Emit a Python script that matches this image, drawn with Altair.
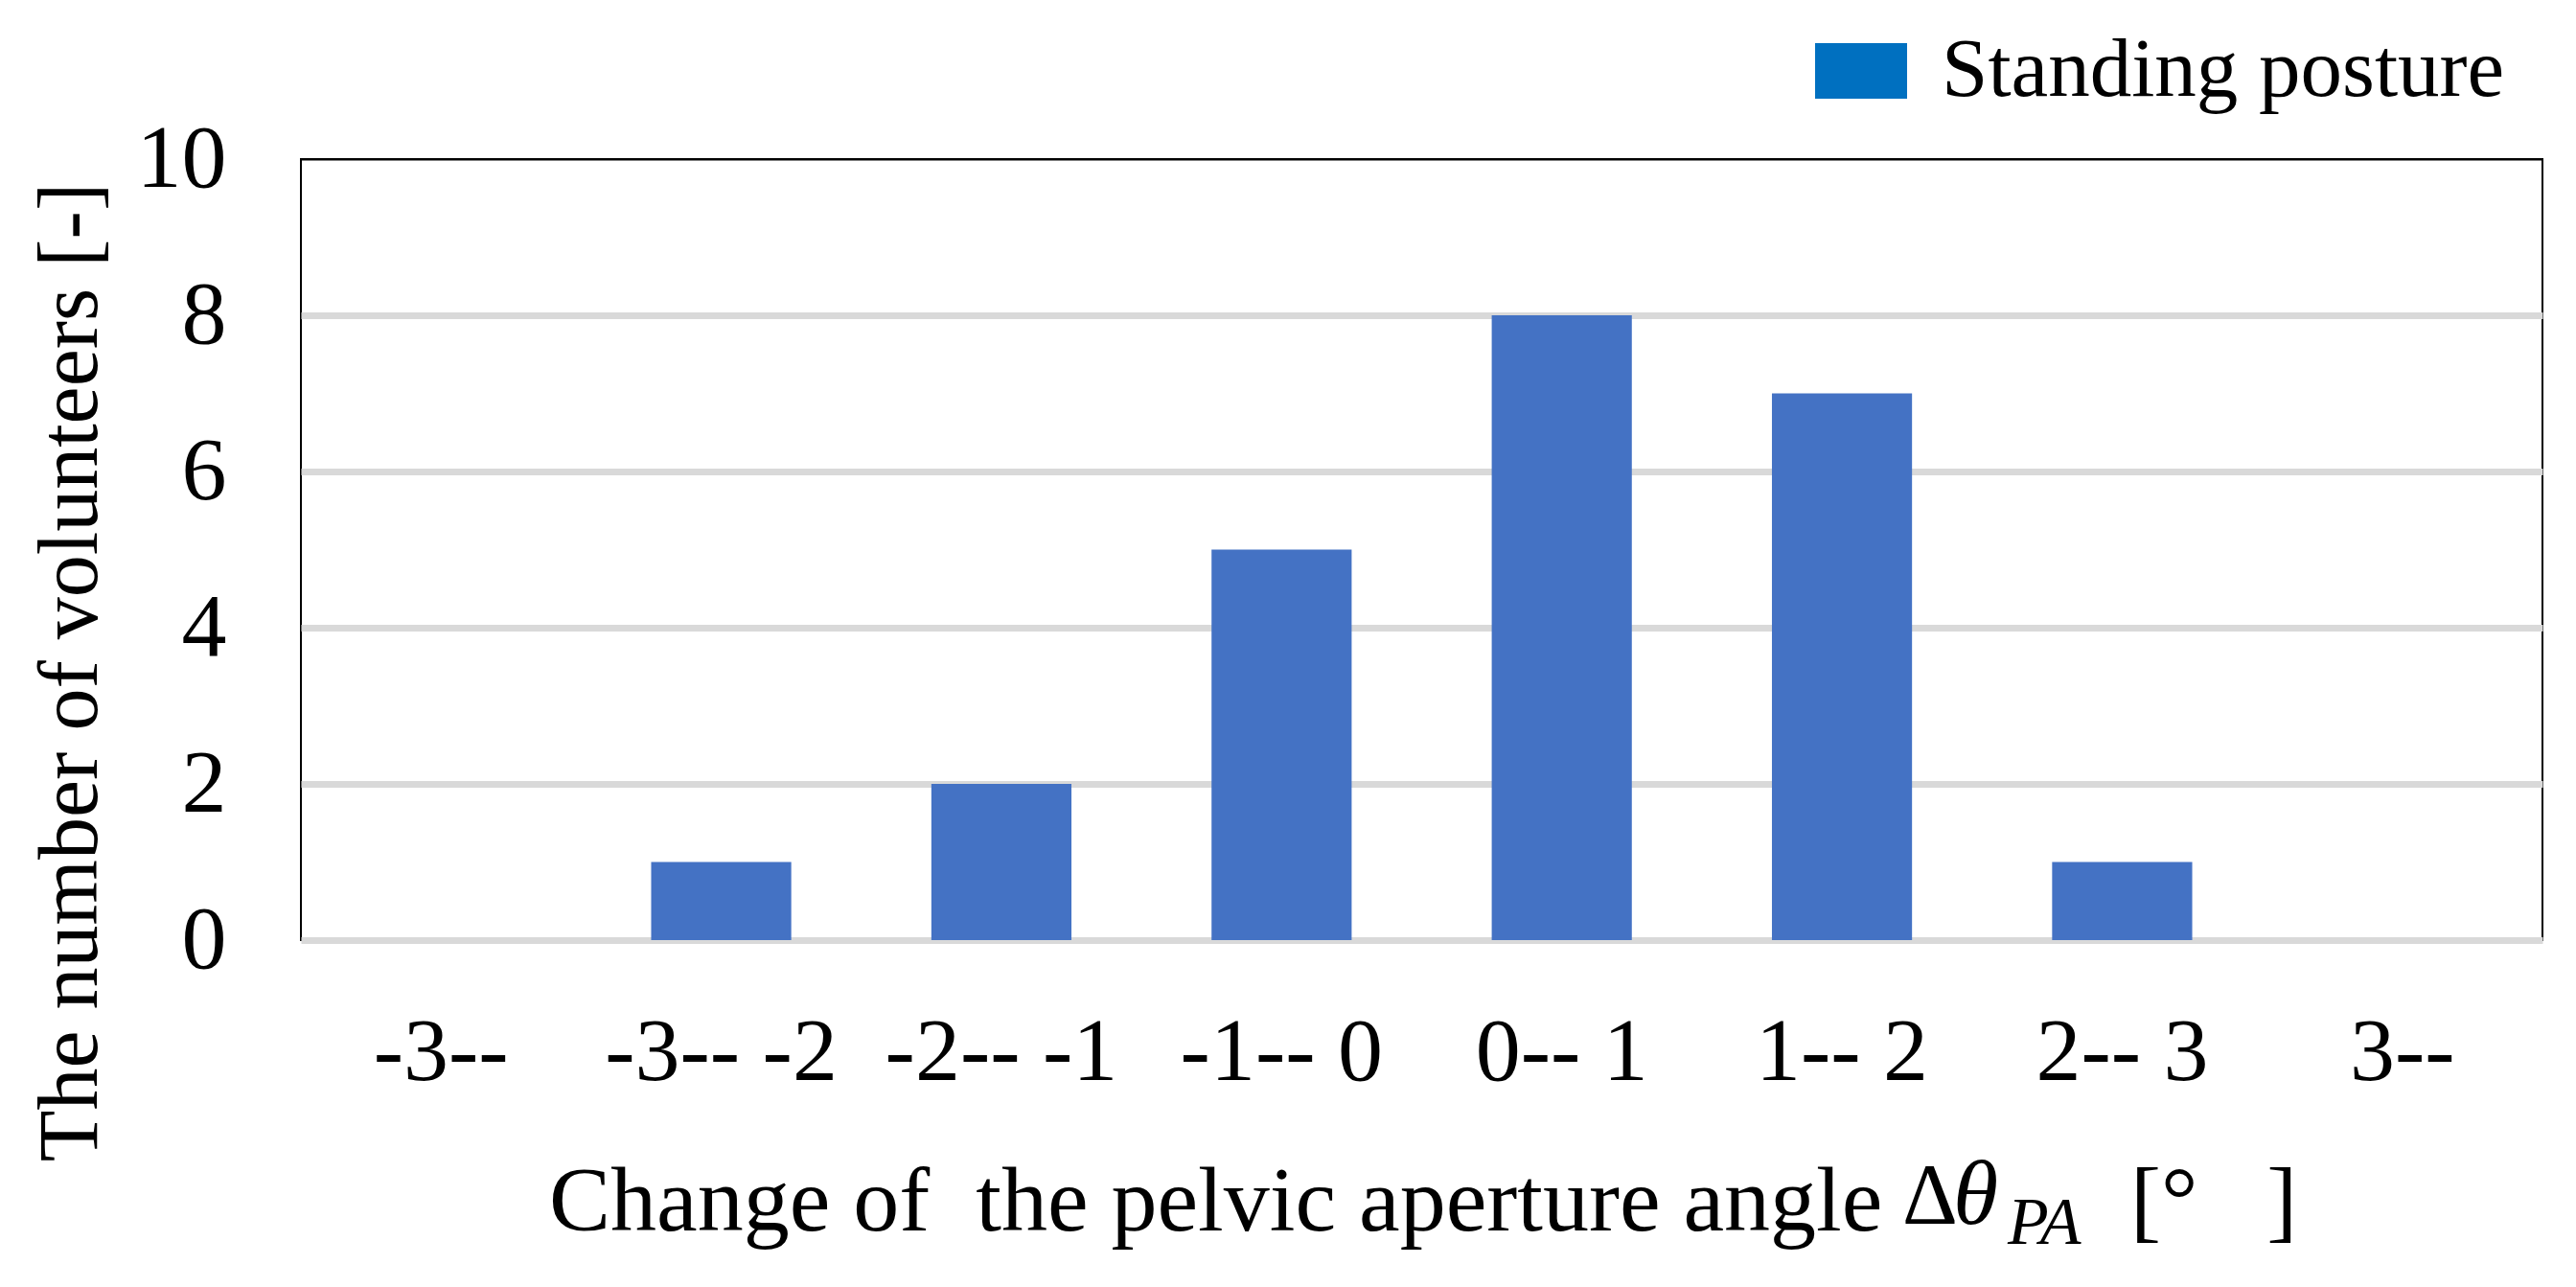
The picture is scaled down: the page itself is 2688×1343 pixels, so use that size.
import altair as alt
import pandas as pd

# ---- data ----
categories = ["-3--", "-3-- -2", "-2-- -1", "-1-- 0", "0-- 1", "1-- 2", "2-- 3", "3--"]
counts = [0, 1, 2, 5, 8, 7, 1, 0]
series_name = ["Standing posture"] * len(categories)
y_ticks = [0, 2, 4, 6, 8, 10]

y_title = "The number of volunteers [-]"
x_title_main = ["Change of\u00a0 the pelvic aperture angle"]
x_title_delta = ["\u0394"]
x_title_theta = ["\u03b8"]
x_title_sub = ["PA"]
x_title_unit = ["[\u00b0\u00a0\u00a0\u00a0]"]

FONT = "Liberation Serif"
BAR = "#4472C4"
LEG = "#0070C0"
GRID = "#D9D9D9"

df = pd.DataFrame({"range": categories, "count": counts, "series": series_name})

W, H = 2339, 815

x_enc = alt.X(
    "range:N",
    sort=categories,
    scale=alt.Scale(paddingInner=0.5, paddingOuter=0.25),
    axis=alt.Axis(
        title=None,
        labelAngle=0,
        labelFont=FONT,
        labelFontSize=94,
        labelColor="black",
        labelPadding=145,
        labelBaseline="alphabetic",
        labelLimit=1000,
        labelOverlap=False,
        ticks=False,
        domain=False,
        grid=False,
    ),
)
y_enc = alt.Y(
    "count:Q",
    scale=alt.Scale(domain=[0, 10], nice=False),
    axis=alt.Axis(
        values=y_ticks,
        format="d",
        title=y_title,
        titleFont=FONT,
        titleFontSize=88,
        titleFontWeight="normal",
        titleColor="black",
        titleAngle=270,
        titleAlign="center",
        titleBaseline="alphabetic",
        titleX=-214,
        titleY=535,
        labelFont=FONT,
        labelFontSize=94,
        labelColor="black",
        labelPadding=78,
        ticks=False,
        domain=False,
        grid=True,
        gridColor={"condition": {"test": "datum.value == 10", "value": "#000000"}, "value": GRID},
        gridWidth={"condition": {"test": "datum.value == 10", "value": 2}, "value": 7},
    ),
)

bars = alt.Chart(df).mark_bar(color=BAR).encode(x=x_enc, y=y_enc)

# invisible copy that only carries the legend entry
legend_layer = alt.Chart(df).mark_bar(opacity=0).encode(
    x=alt.X("range:N", sort=categories),
    y=alt.Y("count:Q"),
    color=alt.Color(
        "series:N",
        scale=alt.Scale(range=[LEG]),
        legend=alt.Legend(
            title=None,
            orient="none",
            legendX=1580,
            legendY=-140,
            padding=0,
            symbolType="M-1,-0.604H1V0.604H-1Z",
            symbolSize=9216,
            symbolStrokeWidth=0,
            symbolOpacity=1,
            labelFont=FONT,
            labelFontSize=87,
            labelColor="black",
            labelOffset=36,
            labelLimit=1000,
        ),
    ),
)

def txt(values, x, y, size, style="normal", weight="normal"):
    return alt.Chart(pd.DataFrame({"t": values})).mark_text(
        font=FONT, fontSize=size, fontStyle=style, fontWeight=weight,
        align="left", baseline="alphabetic", color="black",
    ).encode(x=alt.value(x), y=alt.value(y), text="t:N")

title_layers = [
    txt(x_title_main, 259, 1118, 96),
    txt(x_title_delta, 1671, 1111, 90),
    txt(x_title_theta, 1724, 1111, 96, style="italic"),
    txt(x_title_sub, 1781, 1132, 70, style="italic"),
    txt(x_title_unit, 1909, 1118, 96),
]

chart = alt.layer(bars, legend_layer, *title_layers).properties(
    width=W,
    height=H,
    padding={"left": 306, "top": 158, "right": 25, "bottom": 350},
    autosize=alt.AutoSizeParams(type="none"),
    background="white",
).configure_view(
    stroke="black",
    strokeWidth=2,
)

chart.save("out.html", embed_options={"renderer": "svg", "actions": False})
